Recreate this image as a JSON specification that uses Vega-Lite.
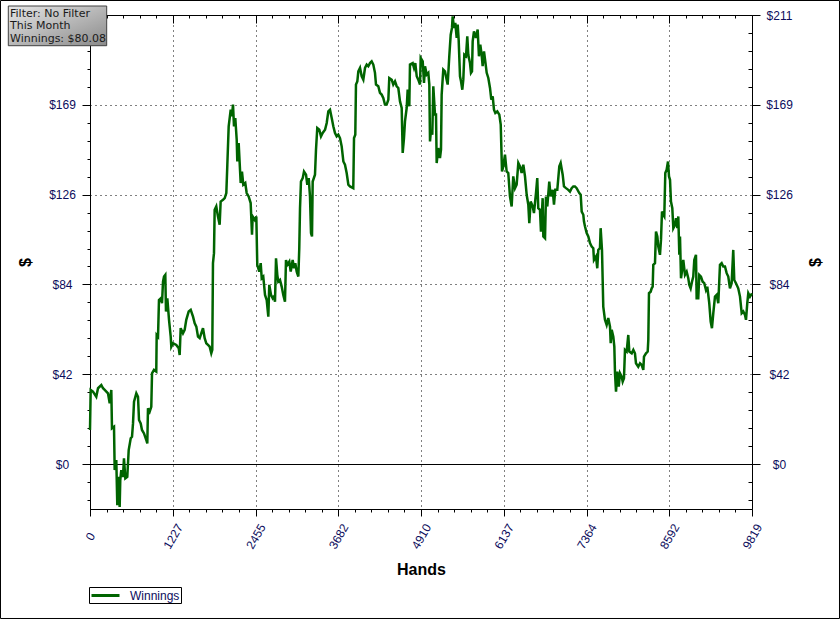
{
"$schema": "https://vega.github.io/schema/vega-lite/v6.json",
"width": 662, "height": 494,
"autosize": "none",
"padding": {"left": 90, "top": 15, "right": 88, "bottom": 110},
"background": "white",
"config": {"view": {"stroke": "black", "strokeWidth": 1}, "font": "Liberation Sans"},
"datasets": {"winnings": [
{"hands":0,"winnings":16.0},{"hands":10,"winnings":34.8},{"hands":44,"winnings":34.0},{"hands":93,"winnings":31.6},{"hands":119,"winnings":35.6},{"hands":168,"winnings":37.1},{"hands":193,"winnings":35.6},{"hands":218,"winnings":34.8},{"hands":267,"winnings":33.2},{"hands":292,"winnings":28.5},{"hands":316,"winnings":34.8},{"hands":326,"winnings":16.8},{"hands":356,"winnings":17.5},{"hands":366,"winnings":-2.8},{"hands":390,"winnings":1.9},{"hands":405,"winnings":-19.3},{"hands":425,"winnings":-6.0},{"hands":440,"winnings":-20.1},{"hands":449,"winnings":-7.5},{"hands":464,"winnings":-2.8},{"hands":489,"winnings":-6.0},{"hands":504,"winnings":2.7},{"hands":524,"winnings":-6.7},{"hands":553,"winnings":-6.0},{"hands":574,"winnings":6.6},{"hands":604,"winnings":12.1},{"hands":623,"winnings":12.8},{"hands":638,"winnings":19.1},{"hands":653,"winnings":29.3},{"hands":687,"winnings":33.2},{"hands":712,"winnings":31.6},{"hands":727,"winnings":20.7},{"hands":752,"winnings":19.1},{"hands":771,"winnings":16.0},{"hands":801,"winnings":14.4},{"hands":835,"winnings":11.3},{"hands":850,"winnings":9.7},{"hands":860,"winnings":26.2},{"hands":885,"winnings":24.6},{"hands":909,"winnings":26.9},{"hands":920,"winnings":42.6},{"hands":949,"winnings":44.2},{"hands":983,"winnings":43.4},{"hands":989,"winnings":60.6},{"hands":1009,"winnings":59.8},{"hands":1023,"winnings":77.0},{"hands":1049,"winnings":77.8},{"hands":1068,"winnings":75.5},{"hands":1083,"winnings":85.6},{"hands":1098,"winnings":88.0},{"hands":1117,"winnings":88.8},{"hands":1127,"winnings":71.6},{"hands":1147,"winnings":77.8},{"hands":1172,"winnings":67.7},{"hands":1197,"winnings":59.8},{"hands":1206,"winnings":55.1},{"hands":1231,"winnings":56.7},{"hands":1280,"winnings":55.9},{"hands":1316,"winnings":54.4},{"hands":1330,"winnings":51.2},{"hands":1345,"winnings":63.8},{"hands":1379,"winnings":61.4},{"hands":1404,"winnings":63.0},{"hands":1428,"winnings":67.7},{"hands":1464,"winnings":71.6},{"hands":1494,"winnings":72.4},{"hands":1528,"winnings":69.2},{"hands":1553,"winnings":66.1},{"hands":1577,"winnings":64.5},{"hands":1602,"winnings":59.8},{"hands":1627,"winnings":59.1},{"hands":1651,"winnings":61.4},{"hands":1676,"winnings":63.8},{"hands":1701,"winnings":59.1},{"hands":1725,"winnings":56.7},{"hands":1750,"winnings":55.9},{"hands":1775,"winnings":55.1},{"hands":1799,"winnings":52.0},{"hands":1814,"winnings":53.6},{"hands":1824,"winnings":94.3},{"hands":1839,"winnings":99.0},{"hands":1849,"winnings":119.3},{"hands":1873,"winnings":120.9},{"hands":1898,"winnings":116.2},{"hands":1923,"winnings":112.3},{"hands":1938,"winnings":123.2},{"hands":1973,"winnings":124.0},{"hands":1998,"winnings":124.8},{"hands":2022,"winnings":127.2},{"hands":2037,"winnings":140.5},{"hands":2057,"winnings":158.5},{"hands":2087,"winnings":166.3},{"hands":2106,"winnings":163.2},{"hands":2121,"winnings":168.7},{"hands":2136,"winnings":158.5},{"hands":2155,"winnings":162.4},{"hands":2176,"winnings":152.2},{"hands":2185,"winnings":142.0},{"hands":2205,"winnings":150.7},{"hands":2235,"winnings":131.9},{"hands":2254,"winnings":137.3},{"hands":2274,"winnings":131.1},{"hands":2303,"winnings":131.9},{"hands":2324,"winnings":127.2},{"hands":2353,"winnings":125.6},{"hands":2383,"winnings":122.5},{"hands":2403,"winnings":107.6},{"hands":2413,"winnings":116.2},{"hands":2443,"winnings":114.6},{"hands":2467,"winnings":116.2},{"hands":2481,"winnings":93.5},{"hands":2511,"winnings":90.3},{"hands":2532,"winnings":94.3},{"hands":2547,"winnings":87.2},{"hands":2570,"winnings":88.0},{"hands":2596,"winnings":79.4},{"hands":2621,"winnings":77.0},{"hands":2645,"winnings":69.2},{"hands":2659,"winnings":84.1},{"hands":2685,"winnings":79.4},{"hands":2710,"winnings":77.8},{"hands":2729,"winnings":78.6},{"hands":2744,"winnings":76.2},{"hands":2759,"winnings":96.6},{"hands":2778,"winnings":88.8},{"hands":2793,"winnings":85.6},{"hands":2818,"winnings":86.4},{"hands":2843,"winnings":83.3},{"hands":2867,"winnings":79.4},{"hands":2892,"winnings":76.2},{"hands":2907,"winnings":95.8},{"hands":2926,"winnings":93.5},{"hands":2956,"winnings":95.0},{"hands":2977,"winnings":90.3},{"hands":3006,"winnings":95.8},{"hands":3026,"winnings":91.9},{"hands":3045,"winnings":94.3},{"hands":3066,"winnings":90.3},{"hands":3090,"winnings":88.0},{"hands":3104,"winnings":101.3},{"hands":3115,"winnings":120.1},{"hands":3129,"winnings":132.6},{"hands":3155,"winnings":134.2},{"hands":3174,"winnings":137.3},{"hands":3204,"winnings":135.8},{"hands":3223,"winnings":131.1},{"hands":3244,"winnings":134.2},{"hands":3263,"winnings":125.6},{"hands":3278,"winnings":108.4},{"hands":3293,"winnings":106.8},{"hands":3303,"winnings":132.6},{"hands":3337,"winnings":135.8},{"hands":3352,"winnings":147.5},{"hands":3371,"winnings":157.7},{"hands":3401,"winnings":156.9},{"hands":3426,"winnings":153.8},{"hands":3451,"winnings":155.4},{"hands":3486,"winnings":156.9},{"hands":3511,"winnings":160.1},{"hands":3535,"winnings":165.5},{"hands":3560,"winnings":166.3},{"hands":3585,"winnings":162.4},{"hands":3609,"winnings":158.5},{"hands":3634,"winnings":155.4},{"hands":3659,"winnings":153.8},{"hands":3683,"winnings":154.6},{"hands":3708,"winnings":153.0},{"hands":3733,"winnings":149.1},{"hands":3758,"winnings":142.0},{"hands":3782,"winnings":140.5},{"hands":3807,"winnings":136.6},{"hands":3832,"winnings":131.1},{"hands":3856,"winnings":130.3},{"hands":3905,"winnings":129.5},{"hands":3916,"winnings":153.0},{"hands":3935,"winnings":154.6},{"hands":3945,"winnings":178.1},{"hands":3965,"winnings":179.6},{"hands":3980,"winnings":184.3},{"hands":4005,"winnings":185.9},{"hands":4030,"winnings":182.0},{"hands":4054,"winnings":180.4},{"hands":4079,"winnings":185.9},{"hands":4104,"winnings":187.5},{"hands":4128,"winnings":186.7},{"hands":4153,"winnings":188.2},{"hands":4178,"winnings":189.0},{"hands":4202,"winnings":187.5},{"hands":4227,"winnings":183.6},{"hands":4242,"winnings":178.1},{"hands":4276,"winnings":177.3},{"hands":4301,"winnings":174.2},{"hands":4326,"winnings":173.4},{"hands":4350,"winnings":171.8},{"hands":4375,"winnings":168.7},{"hands":4400,"winnings":168.7},{"hands":4425,"winnings":171.0},{"hands":4439,"winnings":181.2},{"hands":4475,"winnings":180.4},{"hands":4498,"winnings":178.1},{"hands":4524,"winnings":179.6},{"hands":4549,"winnings":177.3},{"hands":4573,"winnings":176.5},{"hands":4598,"winnings":170.2},{"hands":4623,"winnings":167.1},{"hands":4638,"winnings":146.0},{"hands":4657,"winnings":153.0},{"hands":4672,"winnings":160.8},{"hands":4697,"winnings":167.1},{"hands":4712,"winnings":175.7},{"hands":4736,"winnings":167.9},{"hands":4746,"winnings":187.5},{"hands":4786,"winnings":188.2},{"hands":4806,"winnings":185.9},{"hands":4825,"winnings":188.2},{"hands":4846,"winnings":182.0},{"hands":4869,"winnings":180.4},{"hands":4895,"winnings":178.1},{"hands":4905,"winnings":190.6},{"hands":4935,"winnings":189.0},{"hands":4954,"winnings":178.9},{"hands":4969,"winnings":186.7},{"hands":4994,"winnings":182.8},{"hands":5018,"winnings":183.6},{"hands":5033,"winnings":178.1},{"hands":5043,"winnings":151.4},{"hands":5058,"winnings":156.9},{"hands":5077,"winnings":154.6},{"hands":5092,"winnings":177.3},{"hands":5117,"winnings":164.0},{"hands":5132,"winnings":164.0},{"hands":5142,"winnings":141.3},{"hands":5166,"winnings":148.3},{"hands":5191,"winnings":143.6},{"hands":5206,"winnings":147.5},{"hands":5216,"winnings":173.4},{"hands":5240,"winnings":185.1},{"hands":5265,"winnings":184.3},{"hands":5290,"winnings":180.4},{"hands":5305,"winnings":178.1},{"hands":5329,"winnings":191.4},{"hands":5350,"winnings":201.5},{"hands":5369,"winnings":204.7},{"hands":5379,"winnings":210.1},{"hands":5399,"winnings":204.7},{"hands":5418,"winnings":207.0},{"hands":5439,"winnings":200.0},{"hands":5454,"winnings":206.2},{"hands":5468,"winnings":199.2},{"hands":5488,"winnings":182.0},{"hands":5503,"winnings":179.6},{"hands":5522,"winnings":175.7},{"hands":5537,"winnings":180.4},{"hands":5552,"winnings":192.1},{"hands":5577,"winnings":191.4},{"hands":5596,"winnings":200.7},{"hands":5611,"winnings":192.1},{"hands":5636,"winnings":188.2},{"hands":5651,"winnings":183.6},{"hands":5666,"winnings":184.3},{"hands":5676,"winnings":198.4},{"hands":5695,"winnings":203.1},{"hands":5725,"winnings":200.0},{"hands":5750,"winnings":203.9},{"hands":5769,"winnings":191.4},{"hands":5789,"winnings":196.8},{"hands":5809,"winnings":192.1},{"hands":5824,"winnings":186.7},{"hands":5844,"winnings":193.7},{"hands":5863,"winnings":189.0},{"hands":5884,"winnings":183.6},{"hands":5908,"winnings":181.2},{"hands":5933,"winnings":176.5},{"hands":5952,"winnings":171.0},{"hands":5973,"winnings":172.6},{"hands":5992,"winnings":166.3},{"hands":6012,"winnings":164.8},{"hands":6041,"winnings":165.5},{"hands":6071,"winnings":164.0},{"hands":6092,"winnings":159.3},{"hands":6111,"winnings":137.3},{"hands":6130,"winnings":139.7},{"hands":6155,"winnings":145.2},{"hands":6180,"winnings":137.3},{"hands":6204,"winnings":136.6},{"hands":6229,"winnings":125.6},{"hands":6254,"winnings":120.9},{"hands":6278,"winnings":135.0},{"hands":6304,"winnings":129.5},{"hands":6328,"winnings":131.1},{"hands":6353,"winnings":141.3},{"hands":6378,"winnings":139.7},{"hands":6402,"winnings":136.6},{"hands":6427,"winnings":140.5},{"hands":6452,"winnings":135.0},{"hands":6477,"winnings":126.4},{"hands":6501,"winnings":121.7},{"hands":6516,"winnings":113.1},{"hands":6536,"winnings":123.2},{"hands":6566,"winnings":120.9},{"hands":6585,"winnings":117.8},{"hands":6615,"winnings":127.2},{"hands":6634,"winnings":134.2},{"hands":6649,"winnings":120.1},{"hands":6674,"winnings":119.3},{"hands":6689,"winnings":109.1},{"hands":6714,"winnings":124.8},{"hands":6724,"winnings":106.8},{"hands":6749,"winnings":106.0},{"hands":6763,"winnings":125.6},{"hands":6783,"winnings":120.9},{"hands":6812,"winnings":132.6},{"hands":6833,"winnings":125.6},{"hands":6863,"winnings":128.7},{"hands":6882,"winnings":121.7},{"hands":6901,"winnings":128.7},{"hands":6931,"winnings":128.7},{"hands":6961,"winnings":139.7},{"hands":6981,"winnings":141.3},{"hands":7011,"winnings":135.8},{"hands":7030,"winnings":130.3},{"hands":7060,"winnings":129.5},{"hands":7094,"winnings":128.7},{"hands":7119,"winnings":127.9},{"hands":7144,"winnings":129.5},{"hands":7168,"winnings":130.3},{"hands":7193,"winnings":130.3},{"hands":7218,"winnings":129.5},{"hands":7257,"winnings":127.2},{"hands":7278,"winnings":126.4},{"hands":7293,"winnings":118.5},{"hands":7317,"winnings":117.0},{"hands":7327,"winnings":113.8},{"hands":7342,"winnings":111.5},{"hands":7367,"winnings":108.4},{"hands":7391,"winnings":106.8},{"hands":7416,"winnings":103.7},{"hands":7441,"winnings":102.1},{"hands":7465,"winnings":101.3},{"hands":7475,"winnings":95.8},{"hands":7505,"winnings":97.4},{"hands":7524,"winnings":91.9},{"hands":7539,"winnings":100.5},{"hands":7564,"winnings":101.3},{"hands":7574,"winnings":110.7},{"hands":7594,"winnings":100.5},{"hands":7613,"winnings":73.9},{"hands":7638,"winnings":67.7},{"hands":7663,"winnings":65.3},{"hands":7687,"winnings":68.5},{"hands":7713,"winnings":64.5},{"hands":7723,"winnings":56.7},{"hands":7738,"winnings":63.0},{"hands":7762,"winnings":59.8},{"hands":7777,"winnings":55.1},{"hands":7787,"winnings":42.6},{"hands":7802,"winnings":34.0},{"hands":7821,"winnings":43.4},{"hands":7842,"winnings":36.3},{"hands":7861,"winnings":42.6},{"hands":7886,"winnings":41.0},{"hands":7901,"winnings":38.7},{"hands":7920,"winnings":40.3},{"hands":7935,"winnings":53.6},{"hands":7960,"winnings":52.8},{"hands":7984,"winnings":60.6},{"hands":7999,"winnings":52.8},{"hands":8035,"winnings":52.0},{"hands":8059,"winnings":53.6},{"hands":8083,"winnings":52.0},{"hands":8098,"winnings":47.3},{"hands":8132,"winnings":45.7},{"hands":8158,"winnings":47.3},{"hands":8183,"winnings":46.5},{"hands":8207,"winnings":44.2},{"hands":8217,"winnings":50.4},{"hands":8247,"winnings":52.0},{"hands":8272,"winnings":52.8},{"hands":8281,"winnings":58.3},{"hands":8291,"winnings":80.2},{"hands":8316,"winnings":80.9},{"hands":8331,"winnings":82.5},{"hands":8346,"winnings":83.3},{"hands":8355,"winnings":93.5},{"hands":8380,"winnings":94.3},{"hands":8395,"winnings":109.1},{"hands":8415,"winnings":106.8},{"hands":8429,"winnings":102.1},{"hands":8454,"winnings":98.2},{"hands":8469,"winnings":105.2},{"hands":8484,"winnings":118.5},{"hands":8503,"winnings":117.0},{"hands":8518,"winnings":116.2},{"hands":8533,"winnings":136.6},{"hands":8553,"winnings":138.1},{"hands":8573,"winnings":142.0},{"hands":8588,"winnings":135.0},{"hands":8603,"winnings":133.4},{"hands":8617,"winnings":123.2},{"hands":8637,"winnings":120.1},{"hands":8652,"winnings":110.7},{"hands":8677,"winnings":112.3},{"hands":8692,"winnings":115.4},{"hands":8711,"winnings":110.7},{"hands":8726,"winnings":116.2},{"hands":8741,"winnings":98.2},{"hands":8751,"winnings":106.8},{"hands":8766,"winnings":87.2},{"hands":8780,"winnings":90.3},{"hands":8800,"winnings":95.8},{"hands":8825,"winnings":88.8},{"hands":8850,"winnings":90.3},{"hands":8874,"winnings":87.2},{"hands":8889,"winnings":84.1},{"hands":8909,"winnings":82.5},{"hands":8929,"winnings":85.6},{"hands":8948,"winnings":88.0},{"hands":8963,"winnings":95.8},{"hands":8988,"winnings":98.2},{"hands":8998,"winnings":77.8},{"hands":9022,"winnings":77.8},{"hands":9037,"winnings":88.8},{"hands":9062,"winnings":88.0},{"hands":9087,"winnings":85.6},{"hands":9111,"winnings":84.9},{"hands":9136,"winnings":81.7},{"hands":9156,"winnings":83.3},{"hands":9185,"winnings":75.5},{"hands":9206,"winnings":66.9},{"hands":9225,"winnings":63.8},{"hands":9245,"winnings":70.8},{"hands":9270,"winnings":78.6},{"hands":9295,"winnings":79.4},{"hands":9319,"winnings":75.5},{"hands":9344,"winnings":93.5},{"hands":9369,"winnings":94.3},{"hands":9393,"winnings":92.7},{"hands":9418,"winnings":92.7},{"hands":9443,"winnings":89.6},{"hands":9467,"winnings":88.0},{"hands":9492,"winnings":82.5},{"hands":9517,"winnings":84.9},{"hands":9541,"winnings":100.5},{"hands":9556,"winnings":86.4},{"hands":9581,"winnings":84.9},{"hands":9615,"winnings":82.5},{"hands":9641,"winnings":78.6},{"hands":9666,"winnings":70.8},{"hands":9690,"winnings":71.6},{"hands":9715,"winnings":70.0},{"hands":9730,"winnings":67.7},{"hands":9749,"winnings":75.5},{"hands":9764,"winnings":80.2},{"hands":9789,"winnings":78.6},{"hands":9819,"winnings":80.08}
],
"annotation": [{"label": "annotation"}]},
"layer": [
{
"data": {"name": "annotation"},
"mark": {"type": "rect", "fill": "transparent", "stroke": "black", "strokeWidth": 1},
"encoding": {
"x": {"datum": -1327.5, "type": "quantitative", "axis": null, "scale": {"domain": [0, 9819], "nice": false, "zero": false}},
"x2": {"datum": 11116.8},
"y": {"datum": 217.55, "type": "quantitative", "axis": null, "scale": {"domain": [-21.075, 210.75], "nice": false, "zero": false}},
"y2": {"datum": -72.46}
}
},
{
"data": {"name": "annotation"},
"mark": {"type": "rule", "color": "black", "strokeWidth": 1, "yOffset": 0.41},
"encoding": {
"x": {"datum": 0, "type": "quantitative", "scale": {"domain": [0, 9819], "nice": false, "zero": false},
"axis": {"orient": "top", "title": null, "labels": false, "grid": false, "domain": false,
"values": [0,245.475,490.95,736.425,981.9,1227.375,1472.85,1718.325,1963.8,2209.275,2454.75,2700.225,2945.7,3191.175,3436.65,3682.125,3927.6,4173.075,4418.55,4664.025,4909.5,5154.975,5400.45,5645.925,5891.4,6136.875,6382.35,6627.825,6873.3,7118.775,7364.25,7609.725,7855.2,8100.675,8346.15,8591.625,8837.1,9082.575,9328.05,9573.525,9819],
"tickColor": "black",
"tickSize": {"condition": {"test": "abs(datum.value/1227.375 - round(datum.value/1227.375)) < 0.01", "value": -8}, "value": -3}}},
"x2": {"datum": 9819},
"y": {"datum": 0, "type": "quantitative", "scale": {"domain": [-21.075, 210.75], "nice": false, "zero": false},
"axis": {"orient": "right", "title": "$", "grid": false, "domain": false,
"values": [-16.86,-8.43,0,8.43,16.86,25.29,33.72,42.15,50.58,59.01,67.44,75.87,84.3,92.73,101.16,109.59,118.02,126.45,134.88,143.31,151.74,160.17,168.6,177.03,185.46,193.89,202.32,210.75],
"format": "$,.0f",
"labelExpr": "abs(datum.value/42.15 - round(datum.value/42.15)) < 0.01 ? datum.label : ''",
"labelAlign": "center", "labelBaseline": "middle", "labelPadding": 19, "labelFont": "Liberation Sans", "labelFontSize": 12, "labelColor": "#0c0c5c",
"labelOverlap": false, "labelBound": false, "labelFlush": false,
"tickColor": "black",
"tickSize": {"condition": {"test": "abs(datum.value/42.15 - round(datum.value/42.15)) < 0.01", "value": 8}, "value": -4},
"titleFont": "Liberation Sans", "titleFontSize": 16, "titleFontWeight": "bold", "titleColor": "black", "titleAngle": -90, "titleX": 63, "titleY": 247, "titleAlign": "center", "titleBaseline": "middle"}}
}
},
{
"data": {"name": "winnings"},
"mark": {"type": "line", "strokeWidth": 2.5, "interpolate": "linear"},
"encoding": {
"x": {"field": "hands", "type": "quantitative", "scale": {"domain": [0, 9819], "nice": false, "zero": false},
"axis": {"orient": "bottom", "title": "Hands",
"values": [0,245.475,490.95,736.425,981.9,1227.375,1472.85,1718.325,1963.8,2209.275,2454.75,2700.225,2945.7,3191.175,3436.65,3682.125,3927.6,4173.075,4418.55,4664.025,4909.5,5154.975,5400.45,5645.925,5891.4,6136.875,6382.35,6627.825,6873.3,7118.775,7364.25,7609.725,7855.2,8100.675,8346.15,8591.625,8837.1,9082.575,9328.05,9573.525,9819],
"format": ".0f",
"labelExpr": "abs(datum.value/1227.375 - round(datum.value/1227.375)) < 0.01 ? datum.label : ''",
"labelAngle": -60, "labelAlign": "center", "labelBaseline": "middle", "labelPadding": 20,
"labelFont": "Liberation Sans", "labelFontSize": 12, "labelColor": "#0c0c5c",
"labelOverlap": false, "labelBound": false, "labelFlush": false,
"domainColor": "black", "tickColor": "black",
"tickSize": {"condition": {"test": "abs(datum.value/1227.375 - round(datum.value/1227.375)) < 0.01", "value": 7}, "value": 3},
"grid": true, "gridColor": "black", "gridDash": [1, 4], "gridWidth": 1,
"gridOpacity": {"condition": {"test": "abs(datum.value/1227.375 - round(datum.value/1227.375)) < 0.01", "value": 1}, "value": 0},
"titleFont": "Liberation Sans", "titleFontSize": 16, "titleFontWeight": "bold", "titleColor": "black", "titleY": 60, "titleBaseline": "middle"}},
"y": {"field": "winnings", "type": "quantitative", "scale": {"domain": [-21.075, 210.75], "nice": false, "zero": false},
"axis": {"orient": "left", "title": "$",
"values": [-16.86,-8.43,0,8.43,16.86,25.29,33.72,42.15,50.58,59.01,67.44,75.87,84.3,92.73,101.16,109.59,118.02,126.45,134.88,143.31,151.74,160.17,168.6,177.03,185.46,193.89,202.32,210.75],
"format": "$,.0f",
"labelExpr": "abs(datum.value/42.15 - round(datum.value/42.15)) < 0.01 && datum.value < 200 ? datum.label : ''",
"labelAlign": "center", "labelBaseline": "middle", "labelPadding": 20, "labelFont": "Liberation Sans", "labelFontSize": 12, "labelColor": "#0c0c5c",
"labelOverlap": false, "labelBound": false, "labelFlush": false,
"domainColor": "black", "tickColor": "black",
"tickSize": {"condition": {"test": "abs(datum.value/42.15 - round(datum.value/42.15)) < 0.01", "value": 8}, "value": 3},
"grid": true, "gridColor": "black", "gridDash": [1, 4], "gridWidth": 1,
"gridOpacity": {"condition": {"test": "abs(datum.value/42.15 - round(datum.value/42.15)) < 0.01 && abs(datum.value) > 0.01", "value": 1}, "value": 0},
"titleFont": "Liberation Sans", "titleFontSize": 16, "titleFontWeight": "bold", "titleColor": "black", "titleAngle": -90, "titleX": -65, "titleY": 247, "titleAlign": "center", "titleBaseline": "middle"}},
"color": {"datum": "Winnings", "type": "nominal", "scale": {"range": ["#006400"]},
"legend": {"orient": "none", "legendX": -1, "legendY": 572, "title": null, "strokeColor": "black", "fillColor": "white", "padding": 1,
"symbolType": "M-1,0H3.667", "symbolSize": 144, "symbolStrokeWidth": 3, "labelFont": "Liberation Sans", "labelFontSize": 12, "labelColor": "#0c0c5c", "labelOffset": 25}}
}
},
{
"data": {"name": "annotation"},
"mark": {"type": "rect", "stroke": "#404040", "strokeWidth": 1,
"fill": {"gradient": "linear", "x1": 0, "y1": 0, "x2": 1, "y2": 1, "stops": [{"offset": 0, "color": "#e6e6e6"}, {"offset": 1, "color": "#8a8a8a"}]}},
"encoding": {
"x": {"datum": -1211.8, "type": "quantitative", "axis": null},
"x2": {"datum": 247.7},
"y": {"datum": 214.97, "type": "quantitative", "axis": null},
"y2": {"datum": 196.34}
}
},
{
"data": {"name": "annotation"},
"mark": {"type": "text", "align": "left", "baseline": "alphabetic", "font": "DejaVu Sans", "fontSize": 11, "lineHeight": 12.2, "color": "#1a1a1a"},
"encoding": {
"x": {"datum": -1186.6, "type": "quantitative", "axis": null},
"y": {"datum": 209.67, "type": "quantitative", "axis": null},
"text": {"value": ["Filter: No Filter", "This Month", "Winnings: $80.08"]}
}
}
],
"resolve": {"axis": {"x": "independent", "y": "independent"}}
}
